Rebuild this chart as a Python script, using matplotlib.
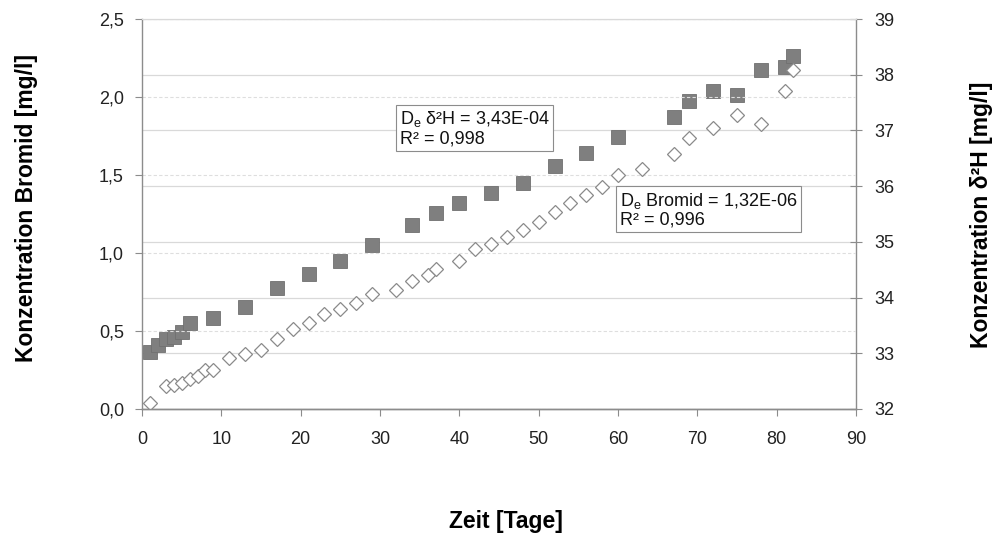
import matplotlib
matplotlib.use("Agg")
import matplotlib.pyplot as plt
from matplotlib.ticker import FuncFormatter, MultipleLocator

plt.rcParams['font.family'] = ['Liberation Sans', 'DejaVu Sans']
plt.rcParams['mathtext.fontset'] = 'custom'
plt.rcParams['mathtext.rm'] = 'Liberation Sans'

# Bromid (left axis)
tage_bromid = [1, 3, 4, 5, 6, 7, 8, 9, 11, 13, 15, 17, 19, 21, 23, 25, 27, 29, 32, 34,
               36, 37, 40, 42, 44, 46, 48, 50, 52, 54, 56, 58, 60, 63, 67, 69, 72, 75,
               78, 81, 82]
bromid = [0.04, 0.145, 0.155, 0.165, 0.195, 0.21, 0.25, 0.25, 0.325, 0.35, 0.38, 0.45,
          0.51, 0.55, 0.61, 0.64, 0.68, 0.74, 0.765, 0.82, 0.86, 0.90, 0.95, 1.025,
          1.06, 1.105, 1.15, 1.20, 1.265, 1.32, 1.37, 1.425, 1.50, 1.54, 1.635, 1.74,
          1.80, 1.885, 1.83, 2.04, 2.17]

# delta 2H (right axis)
tage_d2h = [1, 2, 3, 4, 5, 6, 9, 13, 17, 21, 25, 29, 34, 37, 40, 44, 48, 52, 56, 60,
            67, 69, 72, 75, 78, 81, 82]
d2h = [33.02, 33.14, 33.25, 33.29, 33.38, 33.55, 33.63, 33.83, 34.18, 34.43, 34.65,
       34.95, 35.30, 35.51, 35.70, 35.88, 36.05, 36.36, 36.59, 36.88, 37.24, 37.52,
       37.71, 37.63, 38.09, 38.14, 38.34]

fig = plt.figure(figsize=(9.97, 5.34), dpi=100)
ax = fig.add_axes([0.1424, 0.2341, 0.7162, 0.7303])
ax2 = ax.twinx()

# right axis sits behind so the diamonds land on top
ax.set_zorder(ax2.get_zorder() + 1)
ax.patch.set_visible(False)

grid_c = '#d9d9d9'
axis_c = '#8c8c8c'

ax2.set_ylim(32, 39)
ax2.set_xlim(0, 90)
ax2.yaxis.set_major_locator(MultipleLocator(1))
ax2.grid(True, axis='both', color=grid_c, lw=0.9)
ax2.set_axisbelow(True)
ax2.plot(tage_d2h, d2h, ls='none', marker='s', ms=10, mfc='#7f7f7f',
         mec='#707070', mew=0.6)

ax.set_xlim(0, 90)
ax.set_ylim(0, 2.5)
ax.xaxis.set_major_locator(MultipleLocator(10))
ax.yaxis.set_major_locator(MultipleLocator(0.5))
ax.grid(True, axis='y', color='#dedede', lw=0.8, ls=(0, (3, 2)))
ax.set_axisbelow(True)
ax.plot(tage_bromid, bromid, ls='none', marker='D', ms=6.8, mfc='white',
        mec='#8a8a8a', mew=0.9)

comma = FuncFormatter(lambda v, p: f"{v:.1f}".replace('.', ','))
ax.yaxis.set_major_formatter(comma)

for a in (ax, ax2):
    a.spines['top'].set_color(grid_c)
    for s in ('left', 'right', 'bottom'):
        a.spines[s].set_color(axis_c)
        a.spines[s].set_linewidth(1.0)
ax.spines['right'].set_visible(False)
ax2.spines['left'].set_visible(False)

ax.tick_params(axis='y', direction='out', length=5, color=axis_c, pad=8,
               labelsize=13, labelcolor='#222222')
ax.tick_params(axis='x', direction='out', length=5, color=axis_c, pad=11,
               labelsize=13, labelcolor='#222222')
ax2.tick_params(axis='y', direction='inout', length=8, color=axis_c, pad=9,
                labelsize=13, labelcolor='#222222')

box = dict(boxstyle='square,pad=0.2', fc='white', ec='#8c8c8c', lw=0.8)
ax.text(32.5, 1.92, 'D$_{\\mathregular{e}}$ δ²H = 3,43E-04\nR² = 0,998',
        fontsize=13, va='top', ha='left', bbox=box, linespacing=1.05,
        color='#111111')
ax.text(60.2, 1.40, 'D$_{\\mathregular{e}}$ Bromid = 1,32E-06\nR² = 0,996',
        fontsize=13, va='top', ha='left', bbox=box, linespacing=1.05,
        color='#111111')

fig.text(0.027, 0.61, 'Konzentration Bromid [mg/l]', rotation=90,
         ha='center', va='center', fontsize=16.5, fontweight='bold')
fig.text(0.984, 0.598, 'Konzentration δ²H [mg/l]', rotation=90,
         ha='center', va='center', fontsize=16.5, fontweight='bold')
fig.text(0.507, 0.024, 'Zeit [Tage]', ha='center', va='center',
         fontsize=16.5, fontweight='bold')

fig.savefig('out.png', dpi=100)
